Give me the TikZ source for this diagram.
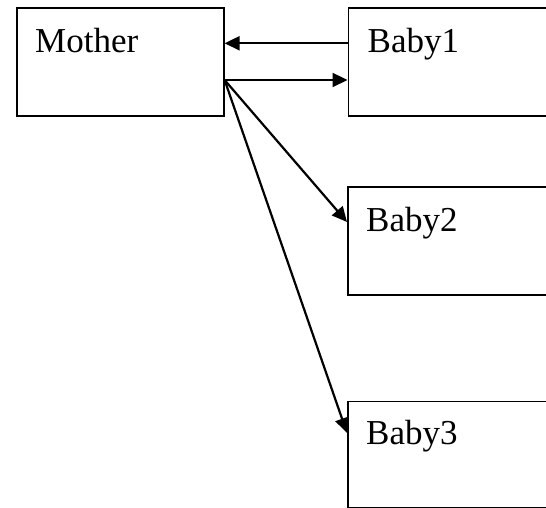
\documentclass[tikz,border=0pt]{standalone}
\usepackage{fontspec}
\setmainfont{Liberation Serif}
\usetikzlibrary{arrows.meta,positioning}

\tikzset{
  box/.style={draw=black, line width=1.6pt, rectangle, inner sep=0pt,
              anchor=north west, minimum height=108pt},
  boxtext/.style={anchor=base west, inner sep=0pt,
                  font=\fontsize{35pt}{40pt}\selectfont},
  link/.style={line width=2.2pt, -{Triangle[length=15pt,width=14pt]}},
}

\begin{document}
\begin{tikzpicture}[x=1pt,y=1pt]
  \useasboundingbox (0,0) rectangle (546,508);
  \clip (0,0) rectangle (546,508);

  % boxes (the right-hand ones run past the right margin)
  \node[box, minimum width=207pt] (mother) at (16,501) {};
  \node[box, minimum width=220pt] (baby1) at (347.5,501) {};
  \node[box, minimum width=220pt] (baby2) at (347,322) {};
  \node[box, minimum width=220pt, minimum height=106.5pt] (baby3) at (347,107.3) {};

  % labels
  \node[boxtext] (tmother) at ([xshift=19pt,yshift=-46pt]mother.north west) {Mother};
  \node[boxtext] (tbaby1) at ([xshift=20pt,yshift=-46pt]baby1.north west) {Baby1};
  \node[boxtext] (tbaby2) at ([xshift=19pt,yshift=-46pt]baby2.north west) {Baby2};
  \node[boxtext] (tbaby3) at ([xshift=19pt,yshift=-44pt]baby3.north west) {Baby3};

  % connection points
  \coordinate (min)  at ([yshift=-36.3pt]mother.north east);
  \coordinate (mout) at ([yshift=-73pt]mother.north east);
  \coordinate (b1out) at ([yshift=-36.3pt]baby1.north west);
  \coordinate (b1in)  at ([yshift=-73pt]baby1.north west);
  \coordinate (b2in)  at ([yshift=-36pt]baby2.north west);
  \coordinate (b3in)  at ([yshift=-32.3pt]baby3.north west);

  % connectors
  \draw[link] (b1out) -- (min);
  \draw[link] (mout) -- (b1in);
  \draw[link] (mout) -- (b2in);
  \draw[link] (mout) -- (b3in);
\end{tikzpicture}
\end{document}
